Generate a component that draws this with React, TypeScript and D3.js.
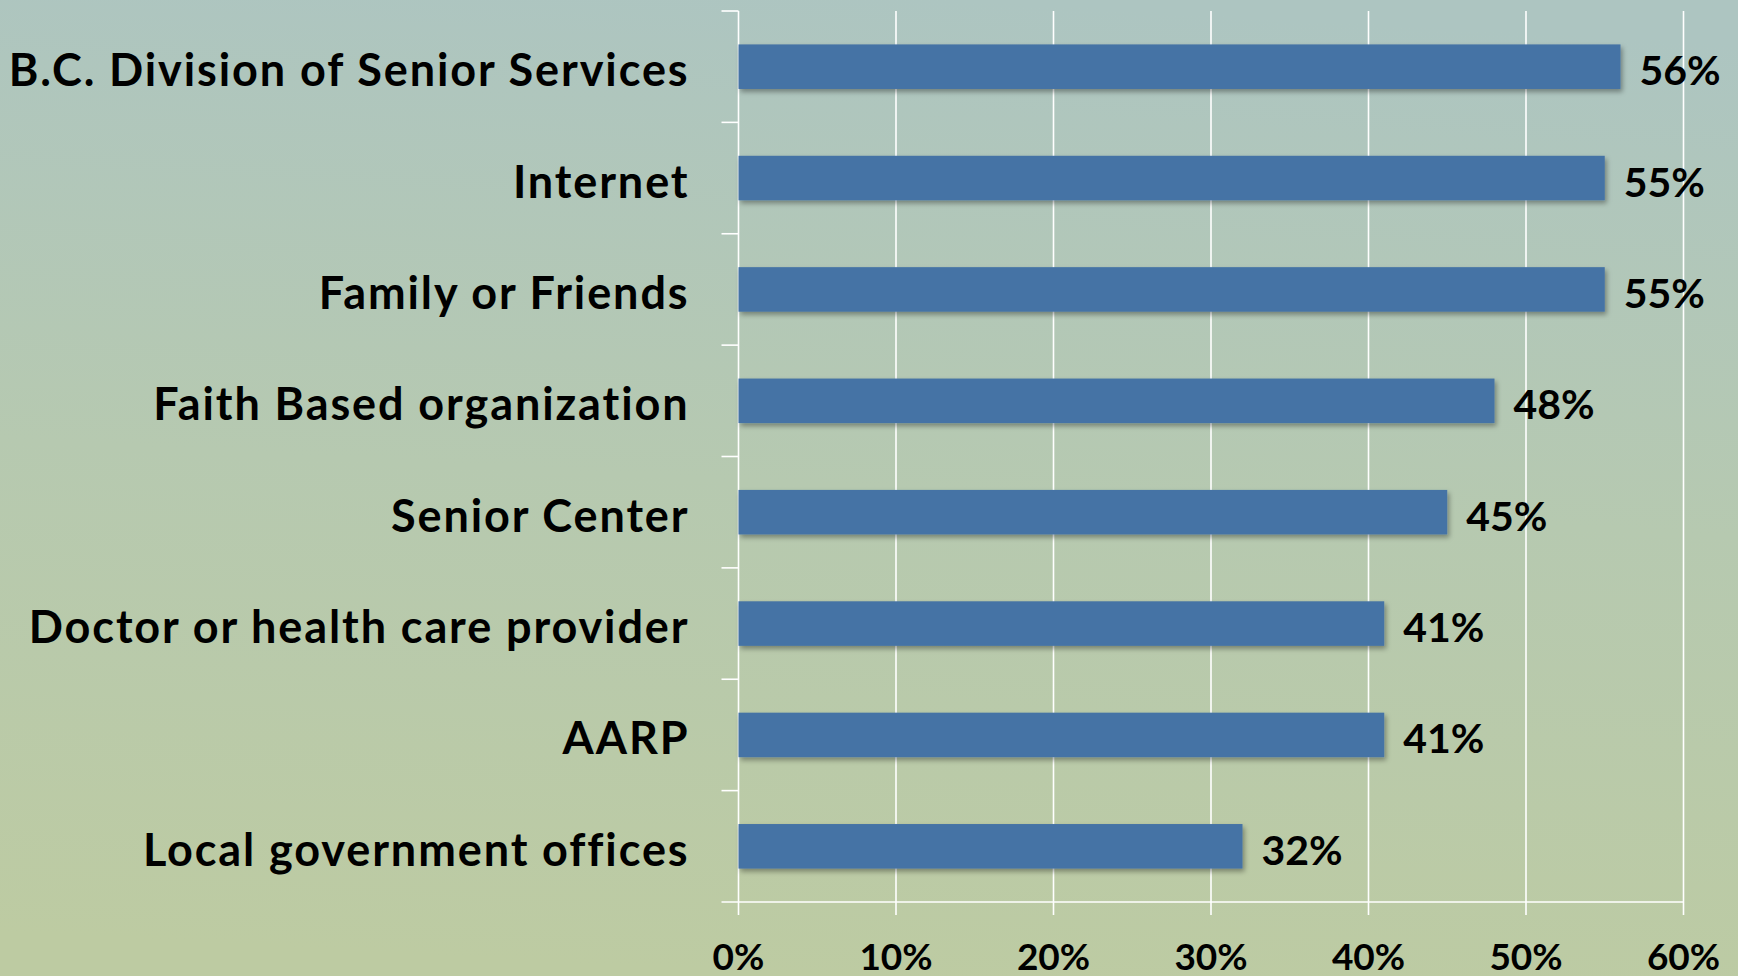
import React, { useRef, useEffect } from 'react';
import * as d3 from 'd3';

const categories = [
  'B.C. Division of Senior Services',
  'Internet',
  'Family or Friends',
  'Faith Based organization',
  'Senior Center',
  'Doctor or health care provider',
  'AARP',
  'Local government offices',
];
const values = [56, 55, 55, 48, 45, 41, 41, 32];
const xTicks = [0, 10, 20, 30, 40, 50, 60];

const W = 1738;
const H = 976;

export default function App() {
  const svgRef = useRef<SVGSVGElement>(null);

  useEffect(() => {
    const svg = d3.select(svgRef.current);
    svg.selectAll('*').remove();

    const margin = { top: 11, left: 738.5, right: 54.5, bottom: 74 };
    const innerW = W - margin.left - margin.right;
    const innerH = H - margin.top - margin.bottom;
    const font = 'Lato, "Open Sans", sans-serif';

    const defs = svg.append('defs');
    const grad = defs.append('linearGradient')
      .attr('id', 'bg').attr('x1', 0.55).attr('y1', 0).attr('x2', 0.45).attr('y2', 1);
    grad.append('stop').attr('offset', '0%').attr('stop-color', '#adc5c1');
    grad.append('stop').attr('offset', '50%').attr('stop-color', '#b6c9b0');
    grad.append('stop').attr('offset', '100%').attr('stop-color', '#bdcba2');

    const shadow = defs.append('filter').attr('id', 'shadow')
      .attr('x', '-5%').attr('y', '-20%').attr('width', '110%').attr('height', '160%');
    shadow.append('feDropShadow')
      .attr('dx', 2).attr('dy', 3).attr('stdDeviation', 2.5)
      .attr('flood-color', '#000').attr('flood-opacity', 0.35);

    svg.append('rect').attr('width', W).attr('height', H).attr('fill', 'url(#bg)');

    const g = svg.append('g').attr('transform', `translate(${margin.left},${margin.top})`);

    const x = d3.scaleLinear().domain([0, 60]).range([0, innerW]);
    const y = d3.scaleBand().domain(categories).range([0, innerH]).paddingInner(0.6).paddingOuter(0.3);
    const step = y.step();

    // líneas de cuadrícula
    g.selectAll('line.grid')
      .data(xTicks)
      .enter()
      .append('line')
      .attr('x1', d => x(d)).attr('x2', d => x(d))
      .attr('y1', 0).attr('y2', innerH + 13)
      .attr('stroke', '#fff').attr('stroke-width', 1.6);

    // eje x
    g.append('line')
      .attr('x1', -17).attr('x2', x(60))
      .attr('y1', innerH).attr('y2', innerH)
      .attr('stroke', '#fff').attr('stroke-width', 1.6);

    // marcas de categorías
    g.selectAll('line.ytick')
      .data(d3.range(categories.length))
      .enter()
      .append('line')
      .attr('x1', -17).attr('x2', 0)
      .attr('y1', i => i * step).attr('y2', i => i * step)
      .attr('stroke', '#fff').attr('stroke-width', 1.6);

    // barras
    g.selectAll('rect.bar')
      .data(values)
      .enter()
      .append('rect')
      .attr('x', 0)
      .attr('y', (d, i) => y(categories[i])!)
      .attr('width', d => x(d))
      .attr('height', y.bandwidth())
      .attr('fill', '#4573a5')
      .attr('filter', 'url(#shadow)');

    // etiquetas de valor
    g.selectAll('text.val')
      .data(values)
      .enter()
      .append('text')
      .attr('x', d => x(d) + 19)
      .attr('y', (d, i) => y(categories[i])! + y.bandwidth() / 2 + 18.5)
      .attr('font-family', font)
      .attr('font-weight', 700)
      .attr('font-size', 41)
      .attr('fill', '#000')
      .text(d => `${d}%`);

    // etiquetas de categoría
    g.selectAll('text.cat')
      .data(categories)
      .enter()
      .append('text')
      .attr('x', -49)
      .attr('y', d => y(d)! + y.bandwidth() / 2 + 19.5)
      .attr('text-anchor', 'end')
      .attr('font-family', font)
      .attr('font-weight', 700)
      .attr('font-size', 45)
      .attr('letter-spacing', 1.9)
      .attr('fill', '#000')
      .text(d => d);

    // etiquetas del eje x
    g.selectAll('text.xt')
      .data(xTicks)
      .enter()
      .append('text')
      .attr('x', d => x(d))
      .attr('y', innerH + 68)
      .attr('text-anchor', 'middle')
      .attr('font-family', font)
      .attr('font-weight', 700)
      .attr('font-size', 37)
      .attr('fill', '#000')
      .text(d => `${d}%`);
  }, []);

  return (
    <div style={{ position: 'fixed', left: 0, top: 0, width: W, height: H }}>
      <svg ref={svgRef} width={W} height={H} style={{ display: 'block' }} />
    </div>
  );
}
